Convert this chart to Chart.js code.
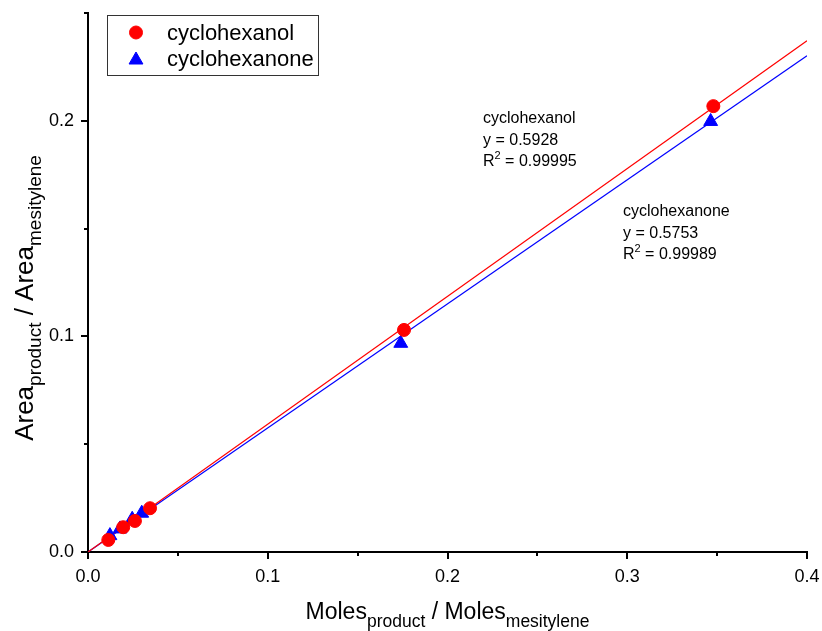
<!DOCTYPE html>
<html>
<head>
<meta charset="utf-8">
<script src="https://cdn.jsdelivr.net/npm/chart.js@4/dist/chart.umd.min.js"></script>
<style>
  html, body { margin: 0; padding: 0; background: #fff; }
  #wrap { width: 822px; height: 631px; }
</style>
</head>
<body>
<div id="wrap"><canvas id="c" width="822" height="631"></canvas></div>
<script>
// Calibration data: product/mesitylene mole ratio vs. GC peak-area ratio
const cyclohexanolX  = [0.0113, 0.0196, 0.0261, 0.0345, 0.1758, 0.3479];
const cyclohexanolY  = [0.0056, 0.0115, 0.0144, 0.0203, 0.1030, 0.2068];
const cyclohexanoneX = [0.0122, 0.0178, 0.0246, 0.0299, 0.1740, 0.3464];
const cyclohexanoneY = [0.0076, 0.0107, 0.0152, 0.0180, 0.0968, 0.1997];

// Linear fits through the origin
const seriesNames = ['cyclohexanol', 'cyclohexanone'];
const fitSlopes   = [0.5928, 0.5753];
const fitR2       = ['0.99995', '0.99989'];
const fitXRange   = [0, 0.4];

// Axis tick labels (major ticks every 0.1)
const xTickLabels = ['0.0', '0.1', '0.2', '0.3', '0.4'];
const yTickLabels = ['0.0', '0.1', '0.2'];

const FONT = "'Liberation Sans', Arial, Helvetica, sans-serif";
const RED = '#ff0000';
const BLUE = '#0000ff';

const toPoints = (xs, ys) => xs.map((x, i) => ({ x, y: ys[i] }));
const fitLine = (slope) => fitXRange.map(x => ({ x, y: slope * x }));

const isMajor = (v) => Math.abs(v * 10 - Math.round(v * 10)) < 1e-6;

// Draws a run of text pieces (with sub/superscripts) on one baseline
function richWidth(ctx, parts) {
  let w = 0;
  for (const p of parts) { ctx.font = p.size + 'px ' + FONT; w += ctx.measureText(p.t).width; }
  return w;
}
function drawRich(ctx, parts, x, y, align) {
  let cx = align === 'center' ? x - richWidth(ctx, parts) / 2 : x;
  ctx.textAlign = 'left';
  ctx.textBaseline = 'alphabetic';
  for (const p of parts) {
    ctx.font = p.size + 'px ' + FONT;
    ctx.fillText(p.t, cx, y + (p.dy || 0));
    cx += ctx.measureText(p.t).width;
  }
}

const decorations = {
  id: 'decorations',
  afterDraw(chart) {
    const { ctx, chartArea, scales } = chart;
    const xs = scales.x, ys = scales.y;
    ctx.save();
    ctx.fillStyle = '#000';
    ctx.strokeStyle = '#000';
    ctx.lineWidth = 2;

    // outward tick marks, long for majors and short for minors
    ctx.beginPath();
    for (let i = 0; i <= 8; i++) {
      const v = i * 0.05;
      const px = Math.round(xs.getPixelForValue(v));
      const len = i % 2 === 0 ? 7 : 4;
      ctx.moveTo(px, chartArea.bottom);
      ctx.lineTo(px, chartArea.bottom + len);
    }
    for (let i = 0; i <= 5; i++) {
      const v = i * 0.05;
      const py = Math.round(ys.getPixelForValue(v));
      const len = i % 2 === 0 ? 7 : 4;
      ctx.moveTo(chartArea.left, py);
      ctx.lineTo(chartArea.left - len, py);
    }
    ctx.stroke();

    // axis titles with subscripts
    const cxMid = (chartArea.left + chartArea.right) / 2;
    drawRich(ctx, [
      { t: 'Moles', size: 23 },
      { t: 'product', size: 17.5, dy: 8 },
      { t: ' / Moles', size: 23 },
      { t: 'mesitylene', size: 17.5, dy: 8 }
    ], cxMid, 619, 'center');

    ctx.save();
    ctx.translate(33, 298);
    ctx.rotate(-Math.PI / 2);
    drawRich(ctx, [
      { t: 'Area', size: 26 },
      { t: 'product', size: 19, dy: 8 },
      { t: ' / Area', size: 26 },
      { t: 'mesitylene', size: 19, dy: 8 }
    ], 0, 0, 'center');
    ctx.restore();

    // fit annotations
    const notes = [
      { x: 483, y: 123, i: 0 },
      { x: 623, y: 216, i: 1 }
    ];
    for (const n of notes) {
      drawRich(ctx, [{ t: seriesNames[n.i], size: 16 }], n.x, n.y, 'left');
      drawRich(ctx, [{ t: 'y = ' + fitSlopes[n.i].toFixed(4), size: 16 }], n.x, n.y + 21.5, 'left');
      drawRich(ctx, [
        { t: 'R', size: 16 },
        { t: '2', size: 11, dy: -7 },
        { t: ' = ' + fitR2[n.i], size: 16 }
      ], n.x, n.y + 43, 'left');
    }

    // legend box
    ctx.lineWidth = 1;
    ctx.strokeStyle = '#333';
    ctx.strokeRect(107.5, 15.5, 211, 60);
    const lg = [
      { y: 32.5, style: 'circle', r: 6.5, color: RED, ty: 39.5 },
      { y: 60, style: 'triangle', r: 8, color: BLUE, ty: 66 }
    ];
    lg.forEach((e, i) => {
      ctx.fillStyle = e.color;
      ctx.strokeStyle = e.color;
      ctx.lineWidth = 1;
      Chart.helpers.drawPoint(ctx, { pointStyle: e.style, radius: e.r, borderWidth: 1, rotation: 0 }, 136, e.y);
      ctx.fillStyle = '#000';
      drawRich(ctx, [{ t: seriesNames[i], size: 22 }], 167, e.ty, 'left');
    });

    ctx.restore();
  }
};

new Chart(document.getElementById('c'), {
  type: 'scatter',
  data: {
    datasets: [
      {
        label: seriesNames[0],
        data: toPoints(cyclohexanolX, cyclohexanolY),
        pointStyle: 'circle', pointRadius: 6.5,
        backgroundColor: RED, borderColor: RED, borderWidth: 1,
        order: 1
      },
      {
        label: seriesNames[1],
        data: toPoints(cyclohexanoneX, cyclohexanoneY),
        pointStyle: 'triangle', pointRadius: 8,
        backgroundColor: BLUE, borderColor: BLUE, borderWidth: 1,
        order: 2
      },
      {
        label: seriesNames[0] + ' fit',
        data: fitLine(fitSlopes[0]),
        type: 'line', showLine: true, pointRadius: 0,
        borderColor: RED, borderWidth: 1.2, fill: false,
        order: 3
      },
      {
        label: seriesNames[1] + ' fit',
        data: fitLine(fitSlopes[1]),
        type: 'line', showLine: true, pointRadius: 0,
        borderColor: BLUE, borderWidth: 1.2, fill: false,
        order: 4
      }
    ]
  },
  options: {
    responsive: false,
    animation: false,
    events: [],
    layout: { padding: { left: 0, top: 13, right: 15, bottom: 0 } },
    plugins: { legend: { display: false }, tooltip: { enabled: false } },
    scales: {
      x: {
        type: 'linear', min: 0, max: 0.4,
        grid: { display: false, drawTicks: false },
        border: { display: true, color: '#000', width: 2 },
        ticks: {
          stepSize: 0.05, padding: 14, color: '#000', maxRotation: 0, autoSkip: false,
          font: { family: FONT, size: 18 },
          callback: (v) => isMajor(v) ? xTickLabels[Math.round(v * 10)] : ''
        },
        afterFit: (s) => { s.height = 79; s.paddingLeft = 0; s.paddingRight = 0; }
      },
      y: {
        type: 'linear', min: 0, max: 0.25,
        grid: { display: false, drawTicks: false },
        border: { display: true, color: '#000', width: 2 },
        ticks: {
          stepSize: 0.05, padding: 14, color: '#000', autoSkip: false,
          font: { family: FONT, size: 18 },
          callback: (v) => isMajor(v) ? yTickLabels[Math.round(v * 10)] : ''
        },
        afterFit: (s) => { s.width = 88; s.paddingTop = 0; s.paddingBottom = 0; }
      }
    }
  },
  plugins: [decorations]
});
</script>
</body>
</html>
